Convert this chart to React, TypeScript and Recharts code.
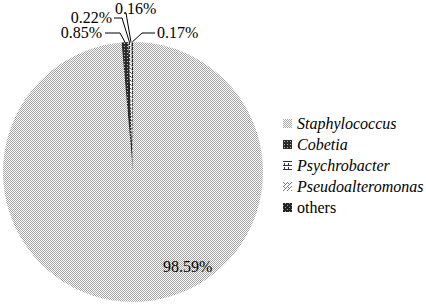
import { PieChart, Pie, Cell, Legend } from "recharts"

const genera = ["Staphylococcus", "Cobetia", "Psychrobacter", "Pseudoalteromonas", "others"]
const shares = [98.59, 0.85, 0.22, 0.16, 0.17]
const patternIds = ["pStaph", "pCobetia", "pPsych", "pPseudo", "pOthers"]
const italicNames = [true, true, true, true, false]

const data = genera.map((name, i) => ({ name, value: shares[i] }))

const FONT = "Liberation Serif, Times New Roman, DejaVu Serif, serif"
const RAD = Math.PI / 180

// where each small-slice label sits, relative to the top of the pie
const labelSpots: { [k: number]: { dx: number; dy: number; anchor: "start" | "end"; line: [number, number][] } } = {
  1: { dx: -31, dy: -4, anchor: "end", line: [[-28, -9], [-13, -9]] },
  2: { dx: -21, dy: -19, anchor: "end", line: [[-19, -24], [-11, -24]] },
  3: { dx: -18, dy: -28, anchor: "start", line: [[-7, -29]] },
  4: { dx: 24, dy: -4, anchor: "start", line: [[22, -9], [9, -9]] },
}

function renderLabel(props: any) {
  const { cx, cy, midAngle, outerRadius, index, value } = props
  const text = `${Number(value).toFixed(2)}%`
  if (index === 0) {
    return (
      <text x={cx + 30} y={cy + 100} fontFamily={FONT} fontSize={16} fill="#000">
        {text}
      </text>
    )
  }
  const spot = labelSpots[index]
  const tx = cx
  const ty = cy - outerRadius
  const ox = cx + outerRadius * Math.cos(-midAngle * RAD)
  const oy = cy + outerRadius * Math.sin(-midAngle * RAD)
  const pts = spot.line.map(([x, y]) => `${tx + x},${ty + y}`).concat(`${ox},${oy}`)
  return (
    <g>
      <polyline points={pts.join(" ")} fill="none" stroke="#000" strokeWidth={1} />
      <text x={tx + spot.dx} y={ty + spot.dy} textAnchor={spot.anchor} fontFamily={FONT} fontSize={16} fill="#000">
        {text}
      </text>
    </g>
  )
}

function renderLegend() {
  return (
    <div style={{ fontFamily: FONT, fontSize: 16, color: "#000" }}>
      {genera.map((name, i) => (
        <div key={name} style={{ height: 21, lineHeight: "21px", display: "flex", alignItems: "center" }}>
          <svg width={9} height={9} style={{ marginRight: 5 }}>
            <rect x={0} y={0} width={9} height={9} fill={`url(#${patternIds[i]})`} />
          </svg>
          <span style={{ fontStyle: italicNames[i] ? "italic" : "normal" }}>{name}</span>
        </div>
      ))}
    </div>
  )
}

export default function App() {
  return (
    <div style={{ position: "absolute", left: 0, top: 0, background: "#fff" }}>
      <PieChart width={426} height={306} margin={{ top: 0, right: 0, bottom: 0, left: 0 }}>
        <defs>
          <pattern id="pStaph" width={2} height={2} patternUnits="userSpaceOnUse">
            <rect width={2} height={2} fill="#fff" />
            <rect x={0} y={0} width={1} height={1} fill="#a4a4a4" />
            <rect x={1} y={1} width={1} height={1} fill="#a4a4a4" />
          </pattern>
          <pattern id="pCobetia" width={3} height={3} patternUnits="userSpaceOnUse">
            <rect width={3} height={3} fill="#2a2a2a" />
            <rect x={1} y={1} width={1} height={1} fill="#bbb" />
          </pattern>
          <pattern id="pPsych" width={4} height={4} patternUnits="userSpaceOnUse">
            <rect width={4} height={4} fill="#fff" />
            <rect x={0} y={0} width={4} height={1} fill="#333" />
            <rect x={1} y={2} width={1} height={2} fill="#333" />
          </pattern>
          <pattern id="pPseudo" width={4} height={4} patternUnits="userSpaceOnUse">
            <rect width={4} height={4} fill="#fff" />
            <rect x={0} y={0} width={1} height={1} fill="#777" />
            <rect x={1} y={1} width={1} height={1} fill="#777" />
            <rect x={3} y={1} width={1} height={1} fill="#777" />
            <rect x={2} y={2} width={1} height={1} fill="#777" />
            <rect x={1} y={3} width={1} height={1} fill="#777" />
          </pattern>
          <pattern id="pOthers" width={4} height={4} patternUnits="userSpaceOnUse">
            <rect width={4} height={4} fill="#222" />
            <rect x={2} y={0} width={1} height={1} fill="#999" />
            <rect x={0} y={2} width={1} height={1} fill="#999" />
          </pattern>
        </defs>
        <Pie
          data={data}
          dataKey="value"
          nameKey="name"
          cx={133}
          cy={172}
          outerRadius={130}
          startAngle={90}
          endAngle={-270}
          stroke="none"
          label={renderLabel}
          labelLine={false}
          isAnimationActive={false}
        >
          {data.map((d, i) => (
            <Cell key={d.name} fill={`url(#${patternIds[i]})`} />
          ))}
        </Pie>
        <Legend
          layout="vertical"
          content={renderLegend}
          wrapperStyle={{ position: "absolute", left: 283, top: 113, width: 143 }}
        />
      </PieChart>
    </div>
  )
}
